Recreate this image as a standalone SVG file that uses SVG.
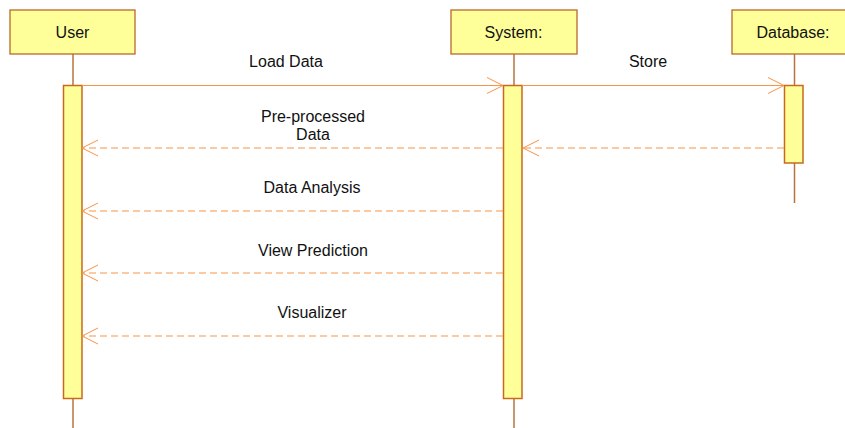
<svg xmlns="http://www.w3.org/2000/svg" width="845" height="428" viewBox="0 0 845 428">
  <style>
    .head { fill: #ffff99; stroke: #b8692a; stroke-width: 1.3; }
    .bar { fill: #ffff99; stroke: #c8691e; stroke-width: 1.5; }
    .life { stroke: #b8733d; stroke-width: 1.5; fill: none; }
    .msg { stroke: #f79446; stroke-width: 1; fill: none; }
    .ret { stroke: #f79446; stroke-width: 1.2; stroke-dasharray: 7 4; fill: none; }
    .tip { stroke: #f79446; stroke-width: 1; fill: none; }
    text { font-family: "Liberation Sans", Arial, sans-serif; font-size: 16px; fill: #111; text-anchor: middle; }
  </style>

  <!-- lifeline: User -->
  <g id="user">
    <line class="life" x1="73" y1="54" x2="73" y2="428"/>
    <rect class="head" x="10" y="10" width="125" height="44"/>
    <text x="72.5" y="37.5">User</text>
    <rect class="bar" x="63.5" y="85.5" width="18.5" height="313"/>
  </g>

  <!-- lifeline: System -->
  <g id="system">
    <line class="life" x1="514" y1="54" x2="514" y2="428"/>
    <rect class="head" x="451" y="10" width="126" height="44"/>
    <text x="513.5" y="37.5">System:</text>
    <rect class="bar" x="503.5" y="85.5" width="18.5" height="313"/>
  </g>

  <!-- lifeline: Database -->
  <g id="database">
    <line class="life" x1="794.5" y1="54" x2="794.5" y2="203"/>
    <rect class="head" x="732" y="10" width="126" height="44"/>
    <text x="793" y="37.5">Database:</text>
    <rect class="bar" x="784.5" y="85.5" width="18.5" height="77.5"/>
  </g>

  <!-- messages -->
  <g id="connectors">
    <line class="msg" x1="82" y1="85.5" x2="503" y2="85.5"/>
    <polyline class="tip" points="487,77.5 503,85.5 487,93.5"/>
    <text x="286" y="66.5">Load Data</text>

    <line class="msg" x1="522" y1="85.5" x2="784" y2="85.5"/>
    <polyline class="tip" points="768,77.5 784,85.5 768,93.5"/>
    <text x="648" y="66.5">Store</text>

    <line class="ret" x1="784" y1="148" x2="523" y2="148"/>
    <polyline class="tip" points="539,140 523,148 539,156"/>

    <line class="ret" x1="503" y1="148" x2="83" y2="148"/>
    <polyline class="tip" points="98,140 82,148 98,156"/>
    <text x="313" y="121.5">Pre-processed</text>
    <text x="313" y="139.5">Data</text>

    <line class="ret" x1="503" y1="211" x2="83" y2="211"/>
    <polyline class="tip" points="98,203 82,211 98,219"/>
    <text x="312" y="192.5">Data Analysis</text>

    <line class="ret" x1="503" y1="273" x2="83" y2="273"/>
    <polyline class="tip" points="98,265 82,273 98,281"/>
    <text x="313" y="255.5">View Prediction</text>

    <line class="ret" x1="503" y1="336" x2="83" y2="336"/>
    <polyline class="tip" points="98,328 82,336 98,344"/>
    <text x="312" y="317.5">Visualizer</text>
  </g>
</svg>
